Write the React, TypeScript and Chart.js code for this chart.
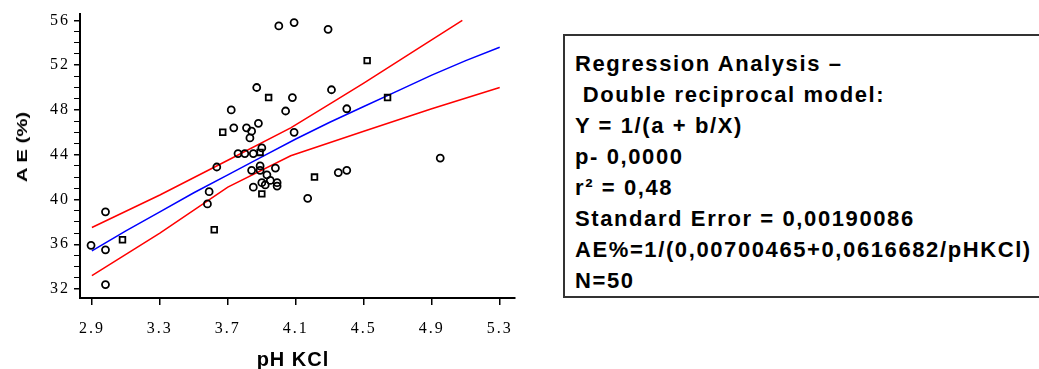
import React, { useEffect, useRef } from 'react';
import { Chart, registerables } from 'chart.js';

Chart.register(...registerables);

// Observed points (pH KCl, A E %), open circles
const circleX = [2.895, 2.98, 2.98, 2.98, 3.58, 3.59, 3.635, 3.72, 3.735, 3.81, 3.84, 3.88, 3.83, 3.87, 4.08, 4.04, 4.09, 3.76, 3.80, 3.85, 3.90, 3.84, 3.89, 3.89, 3.98, 3.85, 3.90, 3.95, 3.99, 3.99, 4.17, 4.35, 4.40, 4.40, 4.95, 4.00, 4.09, 4.29, 4.31, 3.92, 3.93];
const circleY = [35.9, 38.9, 35.5, 32.4, 39.6, 40.7, 42.9, 48.0, 46.4, 46.4, 46.1, 46.8, 45.5, 50.0, 49.1, 47.9, 46.0, 44.1, 44.1, 44.1, 44.6, 42.6, 43.0, 42.6, 42.8, 41.1, 41.5, 41.7, 41.2, 41.5, 40.1, 42.4, 42.6, 48.1, 43.7, 55.5, 55.8, 55.2, 49.8, 41.3, 42.2];
// Observed points drawn as small squares
const squareX = [3.08, 3.62, 3.67, 3.94, 3.89, 3.90, 4.21, 4.52, 4.64];
const squareY = [36.4, 37.3, 46.0, 49.1, 44.2, 40.5, 42.0, 52.4, 49.1];

// Fitted curve (blue)
const fitX = [2.9, 3.1, 3.3, 3.5, 3.7, 3.9, 4.1, 4.3, 4.5, 4.7, 4.9, 5.1, 5.3];
const fitY = [35.4, 37.2, 38.9, 40.6, 42.2, 43.8, 45.4, 46.9, 48.3, 49.7, 51.1, 52.4, 53.6];
// Confidence limits (red)
const upperX = [2.9, 3.3, 3.7, 4.07, 4.33, 4.5, 4.8, 5.08];
const upperY = [37.5, 40.4, 43.5, 46.4, 48.8, 50.4, 53.3, 56.0];
const lowerX = [2.9, 3.3, 3.7, 4.07, 4.5, 4.9, 5.3];
const lowerY = [33.2, 37.0, 41.1, 43.9, 46.1, 48.1, 50.0];

const xTickValues = [2.9, 3.3, 3.7, 4.1, 4.5, 4.9, 5.3];
const yTickValues = [32, 33, 34, 35, 36, 37, 38, 39, 40, 41, 42, 43, 44, 45, 46, 47, 48, 49, 50, 51, 52, 53, 54, 55, 56];
const yLabelValues = [32, 36, 40, 44, 48, 52, 56];

const xTitle = 'pH KCl';
const yTitle = 'A E (%)';
const statsLines = [
  'Regression Analysis –',
  ' Double reciprocal model:',
  'Y = 1/(a + b/X)',
  'p- 0,0000',
  'r² = 0,48',
  'Standard Error = 0,00190086',
  'AE%=1/(0,00700465+0,0616682/pHKCl)',
  'N=50',
];

const pairs = (xs: number[], ys: number[]) => xs.map((x, i) => ({ x, y: ys[i] }));

const spacingPlugin = {
  id: 'spacing',
  beforeUpdate(c: any) { c.ctx.letterSpacing = '2px'; },
  beforeDraw(c: any) { c.ctx.letterSpacing = '2px'; },
};

export default function App() {
  const ref = useRef<HTMLCanvasElement | null>(null);

  useEffect(() => {
    if (!ref.current) return;
    const chart = new Chart(ref.current, {
      type: 'scatter',
      data: {
        datasets: [
          {
            data: pairs(circleX, circleY),
            pointStyle: 'circle',
            pointRadius: 3.5,
            borderColor: '#000',
            backgroundColor: 'rgba(255,255,255,0)',
            borderWidth: 1.8,
          },
          {
            data: pairs(squareX, squareY),
            pointStyle: 'rect',
            pointRadius: 4,
            borderColor: '#000',
            backgroundColor: 'rgba(255,255,255,0)',
            borderWidth: 1.8,
          },
          {
            data: pairs(fitX, fitY),
            showLine: true,
            pointRadius: 0,
            borderColor: '#0000ff',
            borderWidth: 1.5,
            fill: false,
          },
          {
            data: pairs(upperX, upperY),
            showLine: true,
            pointRadius: 0,
            borderColor: '#ff0000',
            borderWidth: 1.5,
            fill: false,
          },
          {
            data: pairs(lowerX, lowerY),
            showLine: true,
            pointRadius: 0,
            borderColor: '#ff0000',
            borderWidth: 1.5,
            fill: false,
          },
        ] as any,
      },
      options: {
        animation: false,
        responsive: false,
        devicePixelRatio: 1,
        layout: { padding: { top: 12, right: 15, left: 0, bottom: 0 } },
        plugins: { legend: { display: false }, tooltip: { enabled: false } },
        scales: {
          x: {
            type: 'linear',
            min: 2.83,
            max: 5.39,
            afterBuildTicks: (s: any) => { s.ticks = xTickValues.map((v) => ({ value: v })); },
            afterFit: (s: any) => { s.height = 71; },
            ticks: {
              callback: (v: any) => Number(v).toFixed(1),
              color: '#000',
              font: { family: 'Liberation Serif', size: 16 },
              padding: 14,
              maxRotation: 0,
              autoSkip: false,
            },
            grid: { display: true, drawOnChartArea: false, drawTicks: true, tickLength: 7, color: '#000', lineWidth: 1.5 },
            border: { display: true, color: '#000', width: 2 },
          },
          y: {
            type: 'linear',
            min: 31.2,
            max: 56.6,
            afterBuildTicks: (s: any) => { s.ticks = yTickValues.map((v) => ({ value: v })); },
            afterFit: (s: any) => { s.width = 80; },
            ticks: {
              callback: (v: any) => (yLabelValues.includes(Number(v)) ? String(v) : ''),
              color: '#000',
              font: { family: 'Liberation Serif', size: 16 },
              padding: 4,
              autoSkip: false,
            },
            grid: {
              display: true,
              drawOnChartArea: false,
              drawTicks: true,
              tickLength: 6,
              color: '#000',
              lineWidth: (ctx: any) => (ctx.tick && yLabelValues.includes(ctx.tick.value) ? 1.5 : 1),
            },
            border: { display: true, color: '#000', width: 2 },
          },
        },
      } as any,
      plugins: [spacingPlugin],
    });
    return () => chart.destroy();
  }, []);

  return (
    <div style={{ position: 'absolute', left: 0, top: 0, width: 1039, height: 369, overflow: 'hidden', background: '#fff' }}>
      <canvas ref={ref} width={530} height={369} style={{ position: 'absolute', left: 0, top: 0, display: 'block' }} />
      <div
        style={{
          position: 'absolute', left: 22, top: 147, transform: 'translate(-50%,-50%) rotate(-90deg) scaleX(1.45)',
          whiteSpace: 'nowrap', font: 'bold 14px "Liberation Sans", Arial, sans-serif', lineHeight: '14px', color: '#000',
        }}
      >
        {yTitle}
      </div>
      <div
        style={{
          position: 'absolute', left: 243, width: 100, top: 349, textAlign: 'center', whiteSpace: 'nowrap',
          font: 'bold 20px "Liberation Sans", Arial, sans-serif', lineHeight: '20px', letterSpacing: '1px', color: '#000',
        }}
      >
        {xTitle}
      </div>
      <div
        style={{
          position: 'absolute', left: 563, top: 34, width: 490, height: 264, boxSizing: 'border-box',
          border: '2px solid #333', paddingTop: 12, paddingLeft: 10, background: '#fff',
        }}
      >
        {statsLines.map((t, i) => (
          <div
            key={i}
            style={{
              whiteSpace: 'pre', font: 'bold 22px "Liberation Sans", Arial, sans-serif', lineHeight: '31px',
              letterSpacing: '1.6px', color: '#000',
            }}
          >
            {t}
          </div>
        ))}
      </div>
    </div>
  );
}
